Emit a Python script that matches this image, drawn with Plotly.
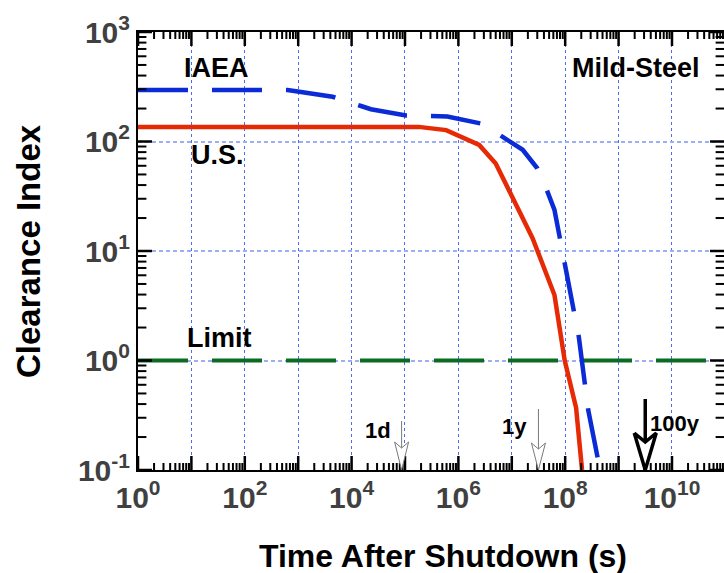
import math
import plotly.graph_objects as go

# ---------------- data ----------------
time_iaea = [1, 6.3e2, 1.05e3, 4.4e3, 1.5e4, 2.3e4, 1.05e5, 3.5e5, 6.2e5, 2.8e6,
             8.9e6, 1.6e7, 3.0e7, 4.4e7, 6.3e7, 9.5e7, 1.8e8, 2.7e8, 4.5e8]
ci_iaea = [295, 295, 285, 256, 211, 197, 173, 172, 169, 145,
           101, 84, 57, 37.4, 23.7, 8.3, 1.64, 0.353, 0.1]

time_us = [1, 1.8e5, 5.9e5, 2.45e6, 5.0e6, 2.45e7, 6.3e7, 9.8e7, 1.6e8, 2.07e8]
ci_us = [136, 136, 127, 93, 63, 13.1, 3.96, 1.0, 0.37, 0.1]

time_limit = [1, 1e11]
ci_limit = [1, 1]

mark_labels = ["1d", "1y", "100y"]
mark_times = [86400, 3.156e7, 3.156e9]

x_tickvals = [10 ** k for k in range(0, 11)]
x_ticktext = ["10<sup>%d</sup>" % k if k % 2 == 0 else " " for k in range(0, 11)]
y_tickvals = [0.1, 1, 10, 100, 1000]
y_ticktext = ["10<sup>-1</sup>", "10<sup>0</sup>", "10<sup>1</sup>", "10<sup>2</sup>", "10<sup>3</sup>"]

x_minorvals = [m * 10 ** k for k in range(0, 11) for m in range(2, 10)]
y_minorvals = [m * 10 ** k for k in range(-1, 3) for m in range(2, 10)]

# ---------------- layout constants ----------------
W, H = 724, 573
ML, MR, MT, MB = 138, 0, 32, 103
XR = [0, 10.974]
YR = [-1, 3]
px_per_dec_x = (W - ML - MR) / (XR[1] - XR[0])
px_per_dec_y = (H - MT - MB) / (YR[1] - YR[0])

FONT = "Liberation Sans, Arial, Helvetica, sans-serif"
BLUE = "#0a2bd6"
RED = "#e62a05"
GREEN = "#0c6b22"

fig = go.Figure()

fig.add_trace(go.Scatter(x=time_limit, y=ci_limit, mode="lines",
                         line=dict(color=GREEN, width=4, dash="50px,24px"),
                         hoverinfo="skip"))
fig.add_trace(go.Scatter(x=time_iaea, y=ci_iaea, mode="lines",
                         line=dict(color=BLUE, width=4.5, dash="50px,24px"),
                         name="IAEA"))
fig.add_trace(go.Scatter(x=time_us, y=ci_us, mode="lines",
                         line=dict(color=RED, width=4.5), name="U.S."))

# ---------------- tick marks drawn inside on all four sides ----------------
# (markers centred on the frame; the outer half is clipped by the plot area)
x_lo, x_hi = 10 ** XR[0], 10 ** XR[1]
y_lo, y_hi = 10 ** YR[0], 10 ** YR[1]
xt_major = [v for v in x_tickvals if v <= x_hi]
xt_minor = [v for v in x_minorvals if v <= x_hi]
for vals, ln, wd in [(xt_major, 10, 2.5), (xt_minor, 5, 2)]:
    for edge in (y_lo, y_hi):
        fig.add_trace(go.Scatter(x=vals, y=[edge] * len(vals), mode="markers",
                                 marker=dict(symbol="line-ns", size=2 * ln,
                                             line=dict(color="black", width=wd)),
                                 hoverinfo="skip", cliponaxis=True))
for vals, ln, wd in [(y_tickvals, 10, 2.5), (y_minorvals, 6, 2)]:
    for edge in (x_lo, x_hi):
        fig.add_trace(go.Scatter(x=[edge] * len(vals), y=vals, mode="markers",
                                 marker=dict(symbol="line-ew", size=2 * ln,
                                             line=dict(color="black", width=wd)),
                                 hoverinfo="skip", cliponaxis=True))

# ---------------- arrows marking 1d / 1y / 100y ----------------
arrow_colors = ["#7a7a7a", "#7a7a7a", "#000000"]
arrow_widths = [1, 1, 3.5]
arrow_len_px = [49, 61, 71]
head_half_px = [7, 7, 11]
head_len_px = [28, 27, 37]
notch_px = [6, 6, 9]
label_y_px = [430, 426, 423]   # vertical centre of the labels (pixel row)
label_side = ["left", "left", "right"]

for t, lab, col, wd, L, hh, hl, nt, ly, side in zip(mark_times, mark_labels, arrow_colors,
                                                    arrow_widths, arrow_len_px, head_half_px,
                                                    head_len_px, notch_px, label_y_px, label_side):
    lx = math.log10(t)
    tip = YR[0]
    top = tip + L / px_per_dec_y
    corner = tip + hl / px_per_dec_y
    notch = corner - nt / px_per_dec_y
    dx = hh / px_per_dec_x
    fig.add_trace(go.Scatter(x=[t, t], y=[10 ** top, 10 ** notch], mode="lines",
                             line=dict(color=col, width=wd), hoverinfo="skip"))
    fig.add_trace(go.Scatter(
        x=[10 ** (lx - dx), t, 10 ** (lx + dx), t, 10 ** (lx - dx)],
        y=[10 ** corner, 10 ** tip, 10 ** corner, 10 ** notch, 10 ** corner],
        mode="lines", fill="toself", fillcolor="white",
        line=dict(color=col, width=wd), hoverinfo="skip"))
    ylog = YR[1] - (ly - MT) / px_per_dec_y
    fig.add_annotation(x=lx, y=ylog, text=lab, showarrow=False,
                       xanchor="right" if side == "left" else "left", yanchor="middle",
                       xshift=-9 if side == "left" else 3,
                       font=dict(family=FONT, size=22, color="black", weight="bold"))

# ---------------- text labels ----------------
lbl_font = dict(family=FONT, size=27, color="black", weight="bold")
for txt, x, y in [("IAEA", 1.47, 2.67), ("U.S.", 1.49, 1.88),
                  ("Limit", 1.52, 0.205), ("Mild-Steel", 9.33, 2.67)]:
    fig.add_annotation(x=x, y=y, text=txt, showarrow=False, xanchor="center",
                       yanchor="middle", font=lbl_font)

# axis titles
fig.add_annotation(xref="paper", yref="paper", x=(443 - ML) / (W - ML - MR),
                   y=-(556 - (H - MB)) / (H - MT - MB), text="Time After Shutdown (s)",
                   showarrow=False, xanchor="center", yanchor="middle",
                   font=dict(family=FONT, size=32, color="black", weight="bold"))
fig.add_annotation(xref="paper", yref="paper", x=(28 - ML) / (W - ML - MR),
                   y=((H - MB) - 251) / (H - MT - MB), text="Clearance Index",
                   textangle=-90, showarrow=False, xanchor="center", yanchor="middle",
                   font=dict(family=FONT, size=33, color="black", weight="bold"))

tickfont = dict(family=FONT, size=30, color="#404040", weight="bold")
fig.update_xaxes(type="log", range=XR, tickmode="array", tickvals=x_tickvals, ticktext=x_ticktext,
                 ticks="", showline=True, linecolor="black", linewidth=2, mirror=True,
                 showgrid=True, gridcolor="#4f6cf0", gridwidth=1, griddash="3px,3px",
                 zeroline=False, tickfont=tickfont, automargin=False)
fig.update_yaxes(type="log", range=YR, tickmode="array", tickvals=y_tickvals, ticktext=y_ticktext,
                 ticks="", showline=True, linecolor="black", linewidth=2, mirror=True,
                 showgrid=True, gridcolor="#9caef5", gridwidth=1.5, griddash="4px,3px",
                 zeroline=False, tickfont=tickfont, automargin=False)

fig.update_layout(width=W, height=H, margin=dict(l=ML, r=MR, t=MT, b=MB),
                  plot_bgcolor="white", paper_bgcolor="white", showlegend=False)

fig.write_html("out.html", config={"displayModeBar": False},
               post_script="document.body.style.margin='0px';")
